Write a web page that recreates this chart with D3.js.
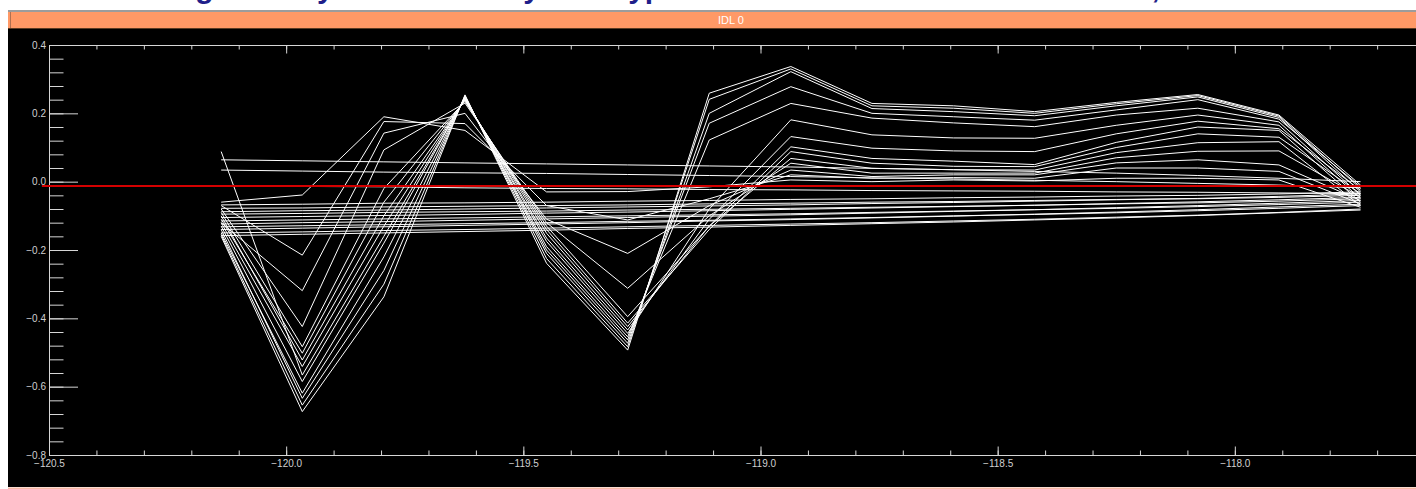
<!DOCTYPE html>
<html>
<head>
<meta charset="utf-8">
<script src="https://cdn.jsdelivr.net/npm/d3@7"></script>
<style>
  html, body { margin: 0; padding: 0; background: #fff; overflow: hidden; }
  svg { display: block; }
</style>
</head>
<body>
<div id="chart"></div>
<script>
// longitude of every sample along the lines
const lon = [-120.137, -119.966, -119.794, -119.623, -119.451, -119.280, -119.108, -118.936,
             -118.765, -118.593, -118.422, -118.250, -118.078, -117.907, -117.735];

// lines that swing up and down (deepest first)
const wavyLines = [
  [-0.160, -0.673, -0.337, 0.254, -0.239, -0.493, 0.259, 0.337, 0.229, 0.222, 0.205, 0.232, 0.255, 0.195, -0.010],
  [-0.155, -0.654, -0.300, 0.252, -0.225, -0.483, 0.241, 0.330, 0.222, 0.215, 0.200, 0.228, 0.252, 0.192, -0.020],
  [-0.140, -0.634, -0.260, 0.250, -0.210, -0.473, 0.200, 0.322, 0.214, 0.205, 0.193, 0.222, 0.248, 0.188, -0.030],
  [-0.150, -0.619, -0.220, 0.248, -0.200, -0.463, 0.171, 0.278, 0.200, 0.190, 0.180, 0.210, 0.240, 0.183, -0.015],
  [-0.130, -0.585, -0.180, 0.246, -0.190, -0.454, 0.122, 0.229, 0.186, 0.172, 0.161, 0.195, 0.215, 0.175, -0.040],
  [0.088, -0.566, -0.160, 0.244, -0.175, -0.444, -0.080, 0.181, 0.137, 0.128, 0.127, 0.165, 0.195, 0.165, -0.050],
  [-0.120, -0.541, -0.130, 0.242, -0.165, -0.434, -0.110, 0.132, 0.098, 0.090, 0.088, 0.140, 0.177, 0.155, -0.025],
  [-0.100, -0.522, -0.100, 0.240, -0.151, -0.424, -0.130, 0.102, 0.068, 0.060, 0.050, 0.115, 0.160, 0.150, -0.060],
  [-0.110, -0.502, -0.060, 0.238, -0.140, -0.414, -0.140, 0.088, 0.054, 0.045, 0.044, 0.100, 0.140, 0.130, -0.035],
  [-0.090, -0.483, -0.020, 0.235, -0.130, -0.395, -0.130, 0.068, 0.039, 0.035, 0.034, 0.085, 0.114, 0.117, -0.070],
  [-0.080, -0.424, 0.093, 0.230, -0.120, -0.312, -0.100, 0.054, 0.025, 0.025, 0.025, 0.070, 0.089, 0.090, -0.045],
  [-0.120, -0.319, 0.142, 0.200, -0.110, -0.210, -0.070, 0.034, 0.015, 0.020, 0.020, 0.055, 0.064, 0.049, -0.055],
  [-0.070, -0.215, 0.176, 0.170, -0.070, -0.112, -0.050, 0.020, 0.010, 0.012, 0.010, 0.040, 0.040, 0.030, -0.065],
  [-0.060, -0.039, 0.190, 0.150, -0.030, -0.029, -0.015, 0.005, 0.000, 0.005, 0.002, 0.010, 0.010, 0.005, -0.075]
];

// nearly straight lines
const flatLines = [
  [0.064, 0.061, 0.058, 0.055, 0.052, 0.049, 0.046, 0.043, 0.039, 0.035, 0.030, 0.025, 0.018, 0.010, 0.000],
  [0.034, 0.031, 0.028, 0.026, 0.024, 0.021, 0.018, 0.015, 0.011, 0.008, 0.004, 0.000, -0.005, -0.010, -0.018],
  [-0.012, -0.014, -0.015, -0.018, -0.020, -0.021, -0.023, -0.024, -0.026, -0.027, -0.028, -0.030, -0.031, -0.033, -0.035],
  [-0.068, -0.066, -0.063, -0.062, -0.060, -0.057, -0.055, -0.052, -0.050, -0.047, -0.045, -0.042, -0.040, -0.036, -0.030],
  [-0.078, -0.077, -0.074, -0.072, -0.070, -0.068, -0.065, -0.063, -0.060, -0.058, -0.055, -0.052, -0.050, -0.046, -0.040],
  [-0.088, -0.085, -0.083, -0.080, -0.077, -0.074, -0.071, -0.068, -0.064, -0.061, -0.057, -0.053, -0.049, -0.043, -0.036],
  [-0.095, -0.093, -0.090, -0.088, -0.086, -0.083, -0.081, -0.078, -0.075, -0.072, -0.069, -0.065, -0.062, -0.057, -0.050],
  [-0.105, -0.102, -0.099, -0.096, -0.092, -0.089, -0.085, -0.081, -0.077, -0.073, -0.069, -0.064, -0.059, -0.053, -0.046],
  [-0.115, -0.112, -0.109, -0.106, -0.103, -0.100, -0.097, -0.094, -0.090, -0.086, -0.082, -0.078, -0.073, -0.067, -0.060],
  [-0.124, -0.120, -0.117, -0.113, -0.109, -0.105, -0.101, -0.097, -0.092, -0.087, -0.082, -0.076, -0.070, -0.063, -0.055],
  [-0.132, -0.129, -0.126, -0.123, -0.120, -0.116, -0.113, -0.109, -0.105, -0.100, -0.096, -0.091, -0.085, -0.078, -0.070],
  [-0.140, -0.136, -0.132, -0.128, -0.124, -0.120, -0.115, -0.111, -0.106, -0.101, -0.095, -0.089, -0.082, -0.074, -0.066],
  [-0.150, -0.147, -0.143, -0.140, -0.136, -0.132, -0.128, -0.124, -0.120, -0.115, -0.110, -0.104, -0.098, -0.090, -0.080],
  [-0.158, -0.154, -0.150, -0.146, -0.142, -0.137, -0.133, -0.128, -0.123, -0.118, -0.112, -0.106, -0.099, -0.091, -0.083]
];

const refLine = { value: -0.013, from: -120.515, to: -117.4 };
const xMajorTicks = [-120.5, -120.0, -119.5, -119.0, -118.5, -118.0];
const yMajorTicks = [-0.8, -0.6, -0.4, -0.2, 0.0, 0.2, 0.4];
const windowTitle = 'IDL 0';
const pageTitle = 'Plotting with my own IDL array data type in one window on the full screen, at last';

const width = 1416;
const height = 489;
const axisColor = '#d6d6d6';
const font = '"Liberation Sans", Arial, sans-serif';

const svg = d3.select('#chart')
    .append('svg')
    .attr('width', width)
    .attr('height', height);

// page heading, almost all scrolled out of view
svg.append('text')
    .attr('x', 102)
    .attr('y', -2)
    .attr('font-family', font)
    .attr('font-weight', 'bold')
    .attr('font-size', 30)
    .attr('fill', '#1f1f8a')
    .text(pageTitle);

// window title bar
svg.append('rect').attr('x', 8).attr('y', 10).attr('width', width - 8).attr('height', 2).attr('fill', '#9c9c9c');
svg.append('rect').attr('x', 8).attr('y', 12).attr('width', width - 8).attr('height', 16).attr('fill', '#ff9966');
svg.append('rect').attr('x', 8).attr('y', 28).attr('width', width - 8).attr('height', 1).attr('fill', '#5b3b22');
svg.append('rect').attr('x', 10).attr('y', 12).attr('width', 1).attr('height', 16).attr('fill', '#b07050');
svg.append('text')
    .attr('x', 718)
    .attr('y', 24)
    .attr('font-family', font)
    .attr('font-size', 11)
    .attr('fill', '#ffffff')
    .text(windowTitle);

// drawing area
svg.append('rect').attr('x', 8).attr('y', 29).attr('width', width - 8).attr('height', 458).attr('fill', '#000');
svg.append('rect').attr('x', 8).attr('y', 487.5).attr('width', width - 8).attr('height', 1.5).attr('fill', '#f7b8a4');

const x = d3.scaleLinear().domain([-120.5, -117.5]).range([49, 1472]);
const y = d3.scaleLinear().domain([-0.8, 0.4]).range([455, 45]);

const xMinor = d3.range(0, 31).map(i => -120.5 + i * 0.1);
const yMinor = d3.range(0, 31).map(i => -0.8 + i * 0.04);

function styleAxis(g) {
    g.attr('font-family', font).attr('font-size', 10);
    g.selectAll('line').attr('stroke', axisColor);
    g.selectAll('path').attr('stroke', axisColor);
    g.selectAll('text').attr('fill', '#d0d0d0');
}

// minor ticks first, without their own axis lines
svg.append('g').attr('transform', 'translate(0,455)')
    .call(d3.axisBottom(x).tickValues(xMinor).tickSize(-4.5).tickFormat(''))
    .call(g => g.select('.domain').remove())
    .call(styleAxis);
svg.append('g').attr('transform', 'translate(0,45)')
    .call(d3.axisTop(x).tickValues(xMinor).tickSize(-4.5).tickFormat(''))
    .call(g => g.select('.domain').remove())
    .call(styleAxis);
svg.append('g').attr('transform', 'translate(49,0)')
    .call(d3.axisLeft(y).tickValues(yMinor).tickSize(-14.5).tickFormat(''))
    .call(g => g.select('.domain').remove())
    .call(styleAxis);

// major ticks with labels
svg.append('g').attr('transform', 'translate(0,455)')
    .call(d3.axisBottom(x).tickValues(xMajorTicks).tickSize(-8.5).tickSizeOuter(0)
        .tickPadding(5).tickFormat(d3.format('.1f')))
    .call(styleAxis);
svg.append('g').attr('transform', 'translate(0,45)')
    .call(d3.axisTop(x).tickValues(xMajorTicks).tickSize(-8.5).tickSizeOuter(0).tickFormat(''))
    .call(styleAxis);
svg.append('g').attr('transform', 'translate(49,0)')
    .call(d3.axisLeft(y).tickValues(yMajorTicks).tickSize(-29).tickSizeOuter(0)
        .tickPadding(3).tickFormat(d3.format('.1f')))
    .call(styleAxis);

const line = d3.line()
    .x((d, i) => x(lon[i]))
    .y(d => y(d));

svg.append('g')
    .selectAll('path')
    .data(flatLines.concat(wavyLines))
    .enter()
    .append('path')
    .attr('d', line)
    .attr('fill', 'none')
    .attr('stroke', '#ffffff')
    .attr('stroke-width', 1);

svg.append('line')
    .attr('x1', x(refLine.from))
    .attr('x2', x(refLine.to))
    .attr('y1', y(refLine.value))
    .attr('y2', y(refLine.value))
    .attr('stroke', '#d40000')
    .attr('stroke-width', 2);
</script>
</body>
</html>
